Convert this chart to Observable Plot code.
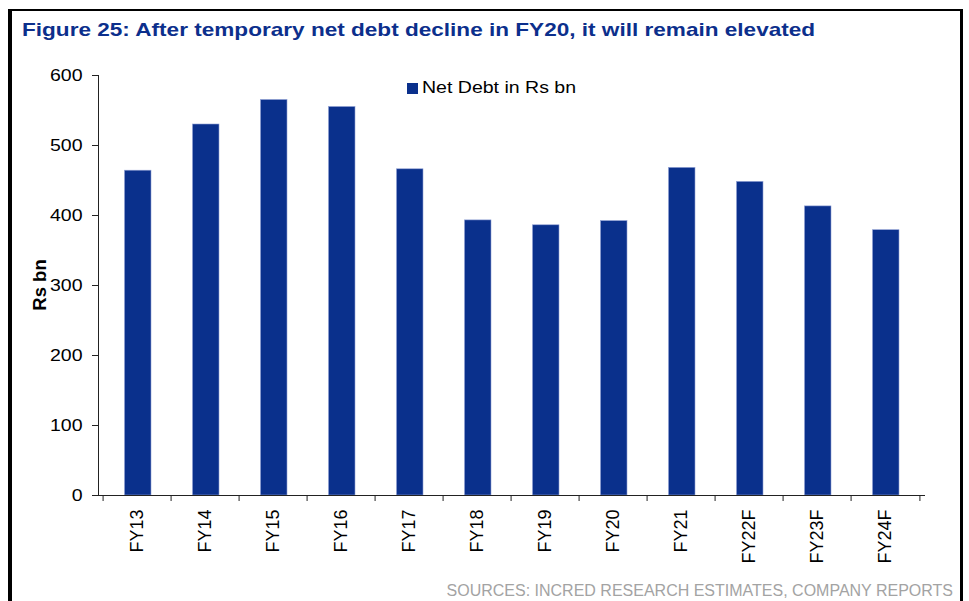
<!DOCTYPE html>
<html>
<head>
<meta charset="utf-8">
<script src="https://cdn.jsdelivr.net/npm/d3@7"></script>
<script src="https://cdn.jsdelivr.net/npm/@observablehq/plot@0.6"></script>
<style>
  html, body { margin: 0; padding: 0; background: #fff; }
  #wrap { position: relative; width: 969px; height: 601px; overflow: hidden; font-family: "Liberation Sans", Arial, sans-serif; }
  #frame { position: absolute; left: 8px; top: 9px; width: 948px; height: 620px; border-left: 4px solid #000; border-top: 2px solid #000; border-right: 3px solid #000; }
  #title { position: absolute; left: 22px; top: 18px; font-size: 18.5px; font-weight: bold; color: #0c2f8c; white-space: nowrap; line-height: 24px; transform: scaleX(1.22); transform-origin: 0 0; }
  #chart { position: absolute; left: 0; top: 0; }
  #ylabel { position: absolute; left: 40px; top: 285px; transform: translate(-50%, -50%) rotate(-90deg); font-size: 18.5px; font-weight: bold; white-space: nowrap; }
  #legend { position: absolute; left: 407px; top: 80px; font-size: 16px; line-height: 16px; white-space: nowrap; }
  #legend .sw { position: absolute; left: 0; top: 3px; width: 11px; height: 11px; background: #0a308c; }
  #legtext { position: absolute; left: 15px; top: 0; transform: scaleX(1.22); transform-origin: 0 0; }
  #source { position: absolute; right: 16px; top: 582px; font-size: 16px; color: #a3a3a3; white-space: nowrap; line-height: 18px; }
</style>
</head>
<body>
<div id="wrap">
  <div id="frame"></div>
  <div id="title"></div>
  <div id="chart"></div>
  <div id="ylabel"></div>
  <div id="legend"><span class="sw"></span><span id="legtext"></span></div>
  <div id="source"></div>
</div>
<script>
const categories = ["FY13", "FY14", "FY15", "FY16", "FY17", "FY18", "FY19", "FY20", "FY21", "FY22F", "FY23F", "FY24F"];
const netDebt = [464, 530, 565, 555, 466, 393, 386, 392, 468, 448, 413, 379];
const yTicks = [0, 100, 200, 300, 400, 500, 600];
const titleText = "Figure 25: After temporary net debt decline in FY20, it will remain elevated";
const seriesName = "Net Debt in Rs bn";
const yAxisLabel = "Rs bn";
const sourceText = "SOURCES: INCRED RESEARCH ESTIMATES, COMPANY REPORTS";

document.getElementById("title").textContent = titleText;
document.getElementById("ylabel").textContent = yAxisLabel;
document.getElementById("legtext").textContent = seriesName;
document.getElementById("source").textContent = sourceText;

const data = categories.map((c, i) => ({cat: c, value: netDebt[i]}));

const W = 969, H = 601;
const mL = 98, mR = 45, mT = 75, mB = 106;
const bw = (W - mL - mR) / categories.length;
const barColor = "#0a308c";
const axisColor = "#222";

const chart = Plot.plot({
  width: W,
  height: H,
  marginLeft: mL,
  marginRight: mR,
  marginTop: mT,
  marginBottom: mB,
  style: {fontFamily: "'Liberation Sans', Arial, sans-serif", fontSize: "17px", color: "#000", background: "transparent", overflow: "visible"},
  x: {type: "band", domain: categories, padding: 0, label: null},
  y: {domain: [0, 600], label: null},
  marks: [
    Plot.barY(data, {x: "cat", y: "value", fill: barColor, stroke: "#8fa0d4", strokeWidth: 0.6, insetLeft: 21.5, insetRight: 20}),
    Plot.frame({anchor: "left", stroke: axisColor}),
    Plot.frame({anchor: "bottom", stroke: axisColor}),
    Plot.axisY({ticks: yTicks, tickSize: 6, tickPadding: 10, stroke: axisColor, fontSize: 16, label: null}),
    Plot.axisX(categories, {tickSize: 6, tickFormat: () => "", dx: -bw / 2, stroke: axisColor, label: null}),
    Plot.axisX([categories[categories.length - 1]], {tickSize: 6, tickFormat: () => "", dx: bw / 2, stroke: axisColor, label: null}),
    Plot.axisX({tickSize: 0, tickRotate: -90, tickPadding: 14, fontSize: 18, label: null})
  ]
});

// widen the horizontal y tick labels to match the reference's wide lettering
d3.select(chart).selectAll('g[aria-label="y-axis tick label"] text').each(function () {
  const t = this.getAttribute("transform");
  if (t) {
    this.setAttribute("transform", t + " scale(1.22,1)");
  } else {
    const x = +this.getAttribute("x") || 0, y = +this.getAttribute("y") || 0;
    this.removeAttribute("x"); this.removeAttribute("y");
    this.setAttribute("transform", `translate(${x},${y}) scale(1.22,1)`);
  }
});

document.getElementById("chart").appendChild(chart);
</script>
</body>
</html>
